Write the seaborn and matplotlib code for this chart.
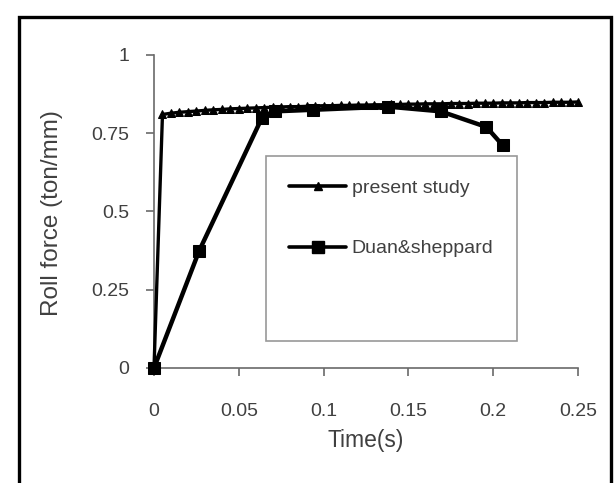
import matplotlib
matplotlib.use("Agg")
import matplotlib.pyplot as plt
from matplotlib.patches import Rectangle
from matplotlib.lines import Line2D
import pandas as pd
import seaborn as sns

# Present study: simulated roll force history
time_present = [0.0, 0.005, 0.010, 0.015, 0.020, 0.025, 0.030, 0.035, 0.040, 0.045,
                0.050, 0.055, 0.060, 0.065, 0.070, 0.075, 0.080, 0.085, 0.090, 0.095,
                0.100, 0.105, 0.110, 0.115, 0.120, 0.125, 0.130, 0.135, 0.140, 0.145,
                0.150, 0.155, 0.160, 0.165, 0.170, 0.175, 0.180, 0.185, 0.190, 0.195,
                0.200, 0.205, 0.210, 0.215, 0.220, 0.225, 0.230, 0.235, 0.240, 0.245,
                0.250]
force_present = [0.000, 0.810, 0.814, 0.817, 0.819, 0.821, 0.823, 0.825, 0.826, 0.828,
                 0.829, 0.830, 0.831, 0.832, 0.833, 0.834, 0.835, 0.835, 0.836, 0.837,
                 0.838, 0.838, 0.839, 0.839, 0.840, 0.840, 0.841, 0.841, 0.842, 0.842,
                 0.843, 0.843, 0.844, 0.844, 0.844, 0.845, 0.845, 0.845, 0.846, 0.846,
                 0.846, 0.847, 0.847, 0.847, 0.848, 0.848, 0.848, 0.849, 0.849, 0.849,
                 0.850]

# Duan & Sheppard reference results
time_duan = [0.0, 0.0266, 0.0637, 0.0715, 0.094, 0.138, 0.169, 0.196, 0.2055]
force_duan = [0.0, 0.374, 0.800, 0.820, 0.825, 0.835, 0.820, 0.770, 0.712]

label_present = "present study"
label_duan = "Duan&sheppard"
x_ticks = [0, 0.05, 0.1, 0.15, 0.2, 0.25]
x_tick_labels = ["0", "0.05", "0.1", "0.15", "0.2", "0.25"]
y_ticks = [0, 0.25, 0.5, 0.75, 1]
y_tick_labels = ["0", "0.25", "0.5", "0.75", "1"]

sns.set_theme(style="white")
plt.rcParams["font.family"] = ["Liberation Sans", "DejaVu Sans"]

text_color = "#404040"
axis_color = "#6a6a6a"

W, H = 616, 483
fig = plt.figure(figsize=(W / 100, H / 100), dpi=100)
fig.patch.set_facecolor("white")
ax = fig.add_axes([154 / W, 1 - 368 / H, (578 - 154) / W, (368 - 55) / H])
ax.set_facecolor("white")

df_present = pd.DataFrame({"t": time_present, "f": force_present})
df_duan = pd.DataFrame({"t": time_duan, "f": force_duan})

sns.lineplot(data=df_duan, x="t", y="f", ax=ax, color="black", linewidth=3.2,
             marker="s", markersize=8, markeredgecolor="black", estimator=None,
             sort=False, zorder=3, clip_on=False)
sns.lineplot(data=df_present, x="t", y="f", ax=ax, color="black", linewidth=2.4,
             marker="^", markersize=6, markeredgecolor="black", estimator=None,
             sort=False, zorder=4, clip_on=False)

ax.set_xlim(0, 0.25)
ax.set_ylim(0, 1)
ax.set_xticks(x_ticks)
ax.set_xticklabels(x_tick_labels)
ax.set_yticks(y_ticks)
ax.set_yticklabels(y_tick_labels)
ax.set_xlabel("Time(s)", fontsize=16.5, color=text_color)
ax.set_ylabel("Roll force (ton/mm)", fontsize=17.5, color=text_color)
ax.xaxis.set_label_coords(0.5, -0.196)
ax.yaxis.set_label_coords(-0.215, 0.495)

for side in ("top", "right"):
    ax.spines[side].set_visible(False)
for side in ("left", "bottom"):
    ax.spines[side].set_color(axis_color)
    ax.spines[side].set_linewidth(1.2)
ax.tick_params(axis="both", which="major", direction="out", length=6, width=1.2,
               color=axis_color, labelcolor=text_color, labelsize=14)
ax.tick_params(axis="x", pad=19)
ax.tick_params(axis="y", pad=12)
ax.tick_params(left=True, bottom=True)

handles = [
    Line2D([], [], color="black", linewidth=2.6, marker="^", markersize=6),
    Line2D([], [], color="black", linewidth=2.6, marker="s", markersize=8),
    Line2D([], [], color="none", linewidth=0),
]
leg = fig.legend(handles, [label_present, label_duan, " "],
                 loc="upper left", bbox_to_anchor=(266 / W, 1 - 156 / H),
                 bbox_transform=fig.transFigure, borderaxespad=0,
                 fontsize=14, frameon=True, fancybox=False, numpoints=1,
                 handlelength=2.9, handletextpad=0.3, labelspacing=2.2,
                 borderpad=1.2, labelcolor=text_color)
leg.get_frame().set_edgecolor("#7f7f7f")
leg.get_frame().set_linewidth(1.2)

# outer frame around the whole chart
fig.patches.append(Rectangle((19 / W, -0.05), (611 - 19) / W, 1.05 - 17 / H,
                             transform=fig.transFigure, fill=False,
                             edgecolor="black", linewidth=2.4))

fig.savefig("out.png", dpi=100)
